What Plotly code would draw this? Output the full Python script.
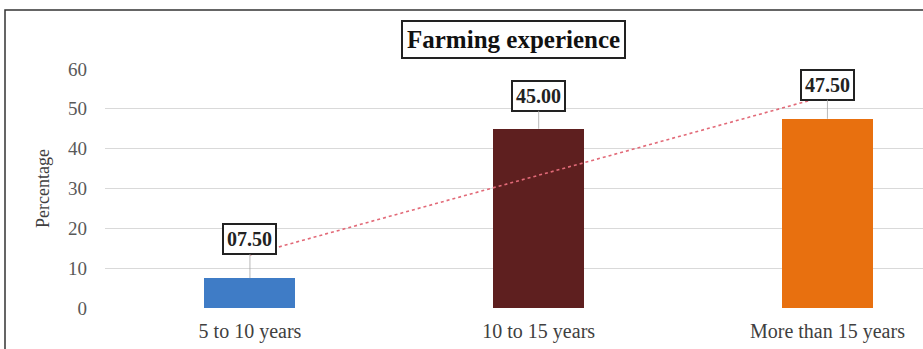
import numpy as np
import plotly.graph_objects as go

categories = ["5 to 10 years", "10 to 15 years", "More than 15 years"]
values = [7.5, 45.0, 47.5]
bar_colors = ["#3F7CC6", "#5E1F1F", "#E8700F"]
y_ticks = [0, 10, 20, 30, 40, 50, 60]
title_text = "Farming experience"
y_title = "Percentage"

FONT = "Liberation Serif, Times New Roman, serif"

xi = np.arange(len(values))
slope, intercept = np.polyfit(xi, values, 1)
trend = slope * xi + intercept

fig = go.Figure()
fig.add_trace(go.Bar(
    x=list(xi), y=values, marker=dict(color=bar_colors, line=dict(width=0)),
    width=0.315, showlegend=False, hoverinfo="skip",
))
fig.add_trace(go.Scatter(
    x=list(xi), y=list(trend), mode="lines",
    line=dict(color="#E26A78", width=1.6, dash="dot"),
    showlegend=False, hoverinfo="skip",
))

label_offsets = [-39, -33, -34]
for i, v in enumerate(values):
    fig.add_annotation(
        x=i, y=v, text=f"<b>{v:05.2f}</b>", showarrow=True, arrowhead=0,
        arrowwidth=0.8, arrowcolor="#A6A6A6", ax=0, ay=label_offsets[i],
        font=dict(family=FONT, size=20, color="#222222"),
        bgcolor="white", bordercolor="#222222", borderwidth=2, borderpad=3,
    )

fig.add_annotation(
    xref="paper", yref="paper", x=(513 - 105) / 818, y=(308 - 39) / 239,
    text=f"<b>{title_text}</b>", showarrow=False,
    font=dict(family=FONT, size=25, color="#111111"),
    bgcolor="white", bordercolor="#222222", borderwidth=2, borderpad=4,
    xanchor="center", yanchor="middle",
)

# outer chart border (extends beyond the cropped right/bottom edges)
fig.add_shape(type="rect", xref="paper", yref="paper",
              x0=(5 - 105) / 818, x1=1.1, y0=-0.4, y1=(308 - 10) / 239,
              line=dict(color="#333333", width=1.5), fillcolor="rgba(0,0,0,0)")

fig.update_layout(
    width=923, height=349,
    margin=dict(l=105, r=0, t=69, b=41),
    paper_bgcolor="white", plot_bgcolor="white",
    font=dict(family=FONT),
    bargap=0,
)
fig.update_xaxes(
    range=[-0.502, 2.331], tickmode="array", tickvals=list(xi), ticktext=categories,
    showgrid=False, zeroline=False, showline=False, ticks="",
    tickfont=dict(family=FONT, size=20, color="#404040"), ticklabelstandoff=9,
)
fig.update_yaxes(
    range=[0, 60], tickvals=y_ticks, showgrid=True, gridcolor="#D9D9D9", gridwidth=1,
    zeroline=False, showline=False, ticks="",
    tickfont=dict(family=FONT, size=19, color="#595959"), ticklabelstandoff=17,
    title=dict(text=y_title, font=dict(family=FONT, size=18, color="#404040"), standoff=13),
)
fig.write_html("out.html")
